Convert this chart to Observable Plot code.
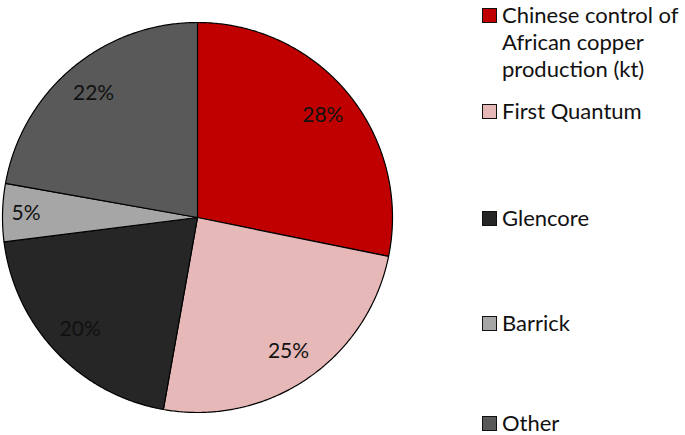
<!DOCTYPE html>
<html>
<head>
<meta charset="utf-8">
<script src="https://cdn.jsdelivr.net/npm/d3@7"></script>
<script src="https://cdn.jsdelivr.net/npm/@observablehq/plot@0.6"></script>
<style>
  html, body { margin: 0; padding: 0; background: #fff; }
  #wrap { position: relative; width: 685px; height: 435px; overflow: hidden; font-family: Lato, "Open Sans", sans-serif; }
  #wrap svg { position: absolute; left: 0; top: 0; }
  .sw { position: absolute; left: 482px; width: 13px; height: 13px; border: 1px solid #111; }
  .tx { position: absolute; left: 502px; font-size: 22px; line-height: 22px; color: #111; white-space: nowrap; }
</style>
</head>
<body>
<div id="wrap"></div>
<script>
const categories = ["Chinese control of African copper production (kt)", "First Quantum", "Glencore", "Barrick", "Other"];
const legendLines = [["Chinese control of", "African copper", "production (kt)"], ["First Quantum"], ["Glencore"], ["Barrick"], ["Other"]];
const values = [28.2, 24.6, 20.2, 4.8, 22.2];
const colors = ["#C00000", "#E6B9B8", "#262626", "#A6A6A6", "#595959"];

const total = d3.sum(values);
let cum = 0;
const slices = categories.map((name, i) => {
  const a0 = cum / total * 2 * Math.PI;
  cum += values[i];
  const a1 = cum / total * 2 * Math.PI;
  return {name, value: values[i], a0, a1, mid: (a0 + a1) / 2};
});

const pts = [];
for (const s of slices) {
  pts.push({name: s.name, x: 0, y: 0});
  const n = Math.max(2, Math.ceil((s.a1 - s.a0) / (Math.PI / 360)));
  for (let k = 0; k <= n; k++) {
    const a = s.a0 + (s.a1 - s.a0) * k / n;
    pts.push({name: s.name, x: Math.sin(a), y: Math.cos(a)});
  }
  pts.push({name: s.name, x: 0, y: 0});
}

const lr = 0.83;
const chart = Plot.plot({
  width: 685,
  height: 435,
  x: {domain: [-1, 1], range: [2, 392], axis: null},
  y: {domain: [-1, 1], range: [412, 22], axis: null},
  color: {domain: categories, range: colors},
  style: {fontFamily: "Lato, 'Open Sans', sans-serif", background: "transparent"},
  marks: [
    Plot.line(pts, {x: "x", y: "y", z: "name", fill: "name", stroke: "#000", strokeWidth: 1.2, curve: "linear"}),
    Plot.text(slices, {
      x: d => lr * Math.sin(d.mid) * (d.value < 10 ? 1.06 : 1),
      y: d => lr * Math.cos(d.mid),
      text: d => Math.round(d.value / total * 100) + "%",
      fontSize: 21,
      fill: "#111"
    })
  ]
});

const wrap = document.getElementById("wrap");
wrap.appendChild(chart);

// legend layout: baseline of first text line per item (px)
const baselines = [23, 119, 226, 331, 431];
const lineStep = 27;
const baseOffset = 19.5; // baseline position inside a line box
categories.forEach((c, i) => {
  const sw = document.createElement("div");
  sw.className = "sw";
  sw.style.top = (baselines[i] - 15) + "px";
  sw.style.background = colors[i];
  wrap.appendChild(sw);
  legendLines[i].forEach((line, k) => {
    const tx = document.createElement("div");
    tx.className = "tx";
    tx.style.top = (baselines[i] - baseOffset + k * lineStep) + "px";
    tx.textContent = line;
    wrap.appendChild(tx);
  });
});
</script>
</body>
</html>
